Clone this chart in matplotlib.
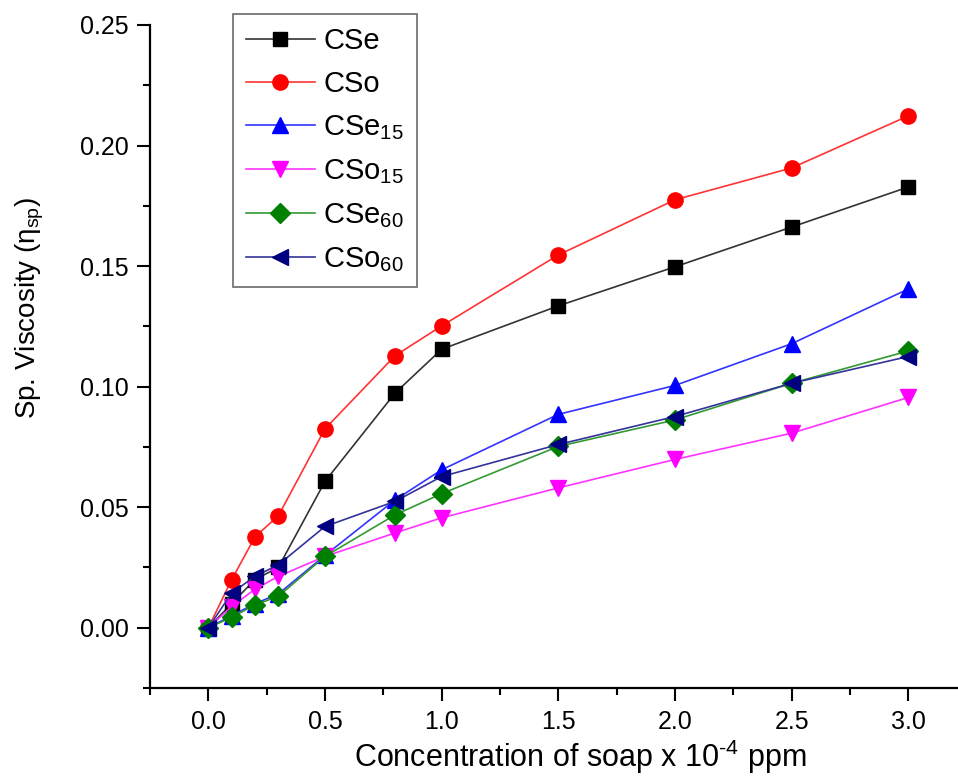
import matplotlib
matplotlib.use("Agg")
import matplotlib.pyplot as plt
from matplotlib.ticker import MultipleLocator, FormatStrFormatter

plt.rcParams['font.family'] = ['Liberation Sans', 'DejaVu Sans']
plt.rcParams['mathtext.fontset'] = 'custom'
plt.rcParams['mathtext.rm'] = 'Liberation Sans'
plt.rcParams['mathtext.it'] = 'Liberation Sans'

conc = [0.0, 0.1, 0.2, 0.3, 0.5, 0.8, 1.0, 1.5, 2.0, 2.5, 3.0]

cse   = [0.0, 0.010, 0.020, 0.025, 0.0607, 0.0973, 0.1155, 0.1335, 0.1497, 0.1662, 0.1828]
cso   = [0.0, 0.0199, 0.0377, 0.0464, 0.0825, 0.1128, 0.1252, 0.1546, 0.1775, 0.1907, 0.2123]
cse15 = [0.0, 0.005, 0.010, 0.014, 0.030, 0.053, 0.0655, 0.0885, 0.1005, 0.1178, 0.1405]
cso15 = [0.0, 0.0088, 0.016, 0.0213, 0.0296, 0.0393, 0.0456, 0.0580, 0.0698, 0.0807, 0.0955]
cse60 = [0.0, 0.0043, 0.0095, 0.013, 0.0296, 0.0468, 0.0556, 0.0752, 0.0862, 0.1014, 0.1148]
cso60 = [0.0, 0.0144, 0.0213, 0.0261, 0.0420, 0.0524, 0.0627, 0.0760, 0.0876, 0.1014, 0.1125]

labels = ['CSe', 'CSo', r'CSe$_{15}$', r'CSo$_{15}$', r'CSe$_{60}$', r'CSo$_{60}$']
series = [cse, cso, cse15, cso15, cse60, cso60]
colors = ['#000000', '#ff0000', '#0000ff', '#ff00ff', '#008000', '#000080']
line_colors = ['#333333', '#ff3333', '#3333ff', '#ff33ff', '#339933', '#333399']
markers = ['s', 'o', '^', 'v', 'D', '<']
msizes = [10, 11, 12, 12, 10, 12]

fig = plt.figure(figsize=(9.58, 7.78), dpi=100)
ax = fig.add_axes([150 / 958, 90 / 778, 808 / 958, 663 / 778])

for y, lab, c, lc, m, ms in zip(series, labels, colors, line_colors, markers, msizes):
    ax.plot(conc, y, color=lc, linewidth=1.2, marker=m, markersize=ms,
            markerfacecolor=c, markeredgecolor=c, label=lab)

ax.set_xlim(-0.25, 3.213)
ax.set_ylim(-0.025, 0.25)

ax.xaxis.set_major_locator(MultipleLocator(0.5))
ax.xaxis.set_minor_locator(MultipleLocator(0.25))
ax.yaxis.set_major_locator(MultipleLocator(0.05))
ax.yaxis.set_minor_locator(MultipleLocator(0.025))
ax.xaxis.set_major_formatter(FormatStrFormatter('%.1f'))
ax.yaxis.set_major_formatter(FormatStrFormatter('%.2f'))

for side in ('top', 'right'):
    ax.spines[side].set_visible(False)
for side in ('left', 'bottom'):
    ax.spines[side].set_linewidth(1.6)

ax.tick_params(which='major', direction='out', length=9.5, width=1.5, labelsize=18, pad=6)
ax.tick_params(which='minor', direction='out', length=5, width=1.5)

ax.set_xlabel(r'Concentration of soap x 10$^{\text{-4}}$ ppm', fontsize=22, va='bottom')
ax.xaxis.set_label_coords((580 - 150) / 808, -(776 - 688) / 663)
ax.set_ylabel(r'Sp. Viscosity ($\eta_{\rm sp}$)', fontsize=20, va='center')
ax.yaxis.set_label_coords((30 - 150) / 808, (688 - 308) / 663)

leg = ax.legend(loc='upper left', bbox_to_anchor=(233 / 958, 1 - 14 / 778),
                bbox_transform=fig.transFigure, borderaxespad=0, fontsize=21,
                frameon=True, fancybox=False, edgecolor='#444444',
                handlelength=2.35, labelspacing=0.52, borderpad=0.45,
                handletextpad=0.3)
leg.get_frame().set_linewidth(1.2)

fig.savefig('out.png', dpi=100)
